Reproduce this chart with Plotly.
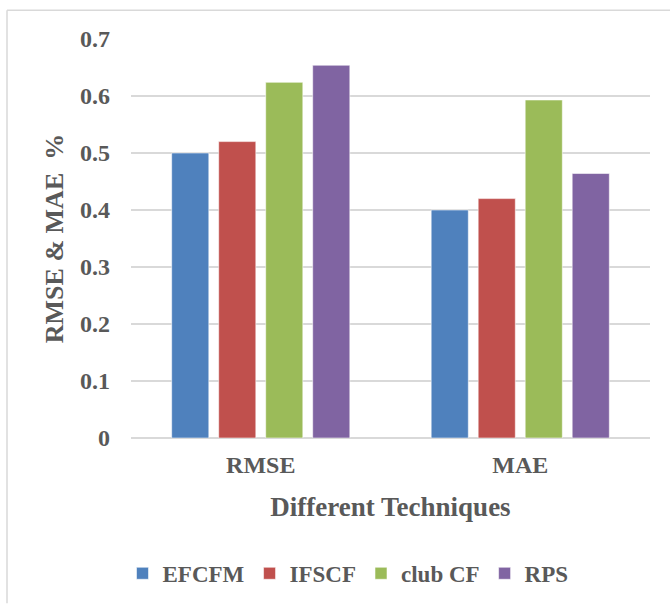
import plotly.graph_objects as go

categories = ["RMSE", "MAE"]
series_names = ["EFCFM", "IFSCF", "club CF", "RPS"]
efcfm = [0.50, 0.40]
ifscf = [0.52, 0.42]
club_cf = [0.624, 0.593]
rps = [0.654, 0.464]
y_ticks = [0, 0.1, 0.2, 0.3, 0.4, 0.5, 0.6, 0.7]
y_tick_labels = ["0", "0.1", "0.2", "0.3", "0.4", "0.5", "0.6", "0.7"]

colors = ["#4F81BD", "#C0504D", "#9BBB59", "#8064A2"]
values = [efcfm, ifscf, club_cf, rps]

W, H = 670, 607
L, R, T, B = 131, 20, 39, 167
pw, ph = W - L - R, H - T - B

def px_x(x):
    return (x - L) / pw

def px_y(y):
    return (H - B - y) / ph

FAM = "Liberation Serif"
GREY = "#595959"

fig = go.Figure()
for name, vals, c in zip(series_names, values, colors):
    fig.add_trace(go.Bar(
        x=categories, y=vals, name=name,
        marker=dict(color=c, line=dict(color="rgba(255,255,255,0.55)", width=1)),
    ))

fig.update_layout(
    width=W, height=H,
    margin=dict(l=L, r=R, t=T, b=B),
    paper_bgcolor="white", plot_bgcolor="white",
    barmode="group", bargap=0.2755, bargroupgap=0.21,
    font=dict(family=FAM, color=GREY, weight="bold"),
    showlegend=True,
    legend=dict(
        orientation="h", x=px_x(348), xanchor="center",
        y=px_y(576), yanchor="middle",
        font=dict(family=FAM, size=23, color=GREY, weight="bold"),
        itemwidth=30, tracegroupgap=0, traceorder="normal",
    ),
    xaxis=dict(
        showgrid=False, showline=False, ticks="", ticklabelstandoff=10,
        tickfont=dict(family=FAM, size=24, color=GREY, weight="bold"),
        title=dict(text="Different Techniques",
                   font=dict(family=FAM, size=27, color=GREY, weight="bold"),
                   standoff=20),
    ),
    yaxis=dict(
        range=[0, 0.7], tickvals=y_ticks, ticktext=y_tick_labels,
        showgrid=True, gridcolor="#D9D9D9", gridwidth=1.5,
        zeroline=True, zerolinecolor="#D9D9D9", zerolinewidth=1.5,
        showline=False, ticks="", ticklabelstandoff=20,
        tickfont=dict(family=FAM, size=24, color=GREY, weight="bold"),
        title=dict(text="RMSE &amp; MAE\u00a0\u00a0%",
                   font=dict(family=FAM, size=26, color=GREY, weight="bold"),
                   standoff=8),
    ),
    shapes=[
        dict(type="line", xref="paper", yref="paper",
             x0=px_x(7), x1=px_x(670), y0=px_y(10), y1=px_y(10),
             line=dict(color="#D9D9D9", width=1.5)),
        dict(type="line", xref="paper", yref="paper",
             x0=px_x(7), x1=px_x(7), y0=px_y(10), y1=px_y(606),
             line=dict(color="#D9D9D9", width=1.5)),
    ],
)

fig.write_html("out.html")
